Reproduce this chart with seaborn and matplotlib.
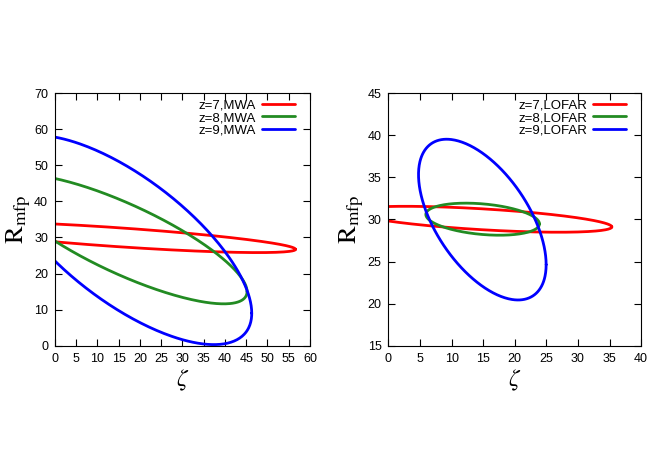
import numpy as np
import pandas as pd
import seaborn as sns
import matplotlib
matplotlib.use("Agg")
import matplotlib.pyplot as plt
from matplotlib.lines import Line2D

# ellipse parameters:
# centre (cx, cy), half ranges (sx, sy), correlation r
mwa_labels = ["z=7,MWA", "z=8,MWA", "z=9,MWA"]
mwa_cx = [14.5, 16.3, 16.6]
mwa_cy = [30.1, 29.5, 29.3]
mwa_sx = [42.1, 28.9, 29.7]
mwa_sy = [4.29, 17.9, 29.0]
mwa_r = [-0.79, -0.81, -0.70]

lofar_labels = ["z=7,LOFAR", "z=8,LOFAR", "z=9,LOFAR"]
lofar_cx = [14.8, 14.91, 14.86]
lofar_cy = [30.02, 30.03, 29.98]
lofar_sx = [20.56, 8.99, 10.1]
lofar_sy = [1.54, 1.905, 9.55]
lofar_r = [-0.59, -0.294, -0.56]

colors = ["#ff0000", "#228b22", "#0000ff"]

sns.set_style("ticks", {"axes.edgecolor": "black", "xtick.color": "black",
                        "ytick.color": "black", "text.color": "black",
                        "axes.labelcolor": "black"})
plt.rcParams["font.family"] = ["Liberation Sans", "DejaVu Sans"]
plt.rcParams["mathtext.fontset"] = "stix"


def contour_df(labels, cx, cy, sx, sy, r):
    t = np.linspace(0, 2 * np.pi, 400)
    rows = []
    for i, lab in enumerate(labels):
        x = cx[i] + sx[i] * np.cos(t)
        y = cy[i] + sy[i] * (r[i] * np.cos(t) + np.sqrt(1 - r[i] ** 2) * np.sin(t))
        rows.append(pd.DataFrame({"x": x, "y": y, "set": lab}))
    return pd.concat(rows, ignore_index=True)


fig = plt.figure(figsize=(6.64, 4.65), dpi=100)
ax1 = fig.add_axes([0.0828, 0.2566, 0.384, 0.543])
ax2 = fig.add_axes([0.585, 0.2566, 0.3806, 0.543])

panels = [
    (ax1, contour_df(mwa_labels, mwa_cx, mwa_cy, mwa_sx, mwa_sy, mwa_r), mwa_labels,
     (0, 60), (0, 70), np.arange(0, 61, 5), np.arange(0, 71, 10)),
    (ax2, contour_df(lofar_labels, lofar_cx, lofar_cy, lofar_sx, lofar_sy, lofar_r), lofar_labels,
     (0, 40), (15, 45), np.arange(0, 41, 5), np.arange(15, 46, 5)),
]

for ax, df, labels, xl, yl, xt, yt in panels:
    for lab, col in zip(labels, colors):
        sub = df[df["set"] == lab]
        sns.lineplot(data=sub, x="x", y="y", sort=False, estimator=None,
                     color=col, lw=2, ax=ax)
    ax.set_xlim(*xl)
    ax.set_ylim(*yl)
    ax.set_xticks(xt)
    ax.set_yticks(yt)
    ax.tick_params(direction="in", top=True, right=True, length=5, width=0.8,
                   labelsize=9, pad=5)
    for s in ax.spines.values():
        s.set_linewidth(0.8)
    ax.set_xlabel(r"$\zeta$", fontsize=17, labelpad=2)
    ax.set_ylabel(r"$\mathrm{R}_{\mathrm{mfp}}$", fontsize=19, labelpad=1)
    handles = [Line2D([], [], color=c, lw=2) for c in colors]
    ax.legend(handles, labels, loc="upper right", frameon=False, fontsize=9.5,
              markerfirst=False, handlelength=2.5, handletextpad=0.45,
              labelspacing=0.0, borderaxespad=0.0, borderpad=0.2,
              bbox_to_anchor=(0.95, 0.985))

fig.savefig("out.png", dpi=100)
